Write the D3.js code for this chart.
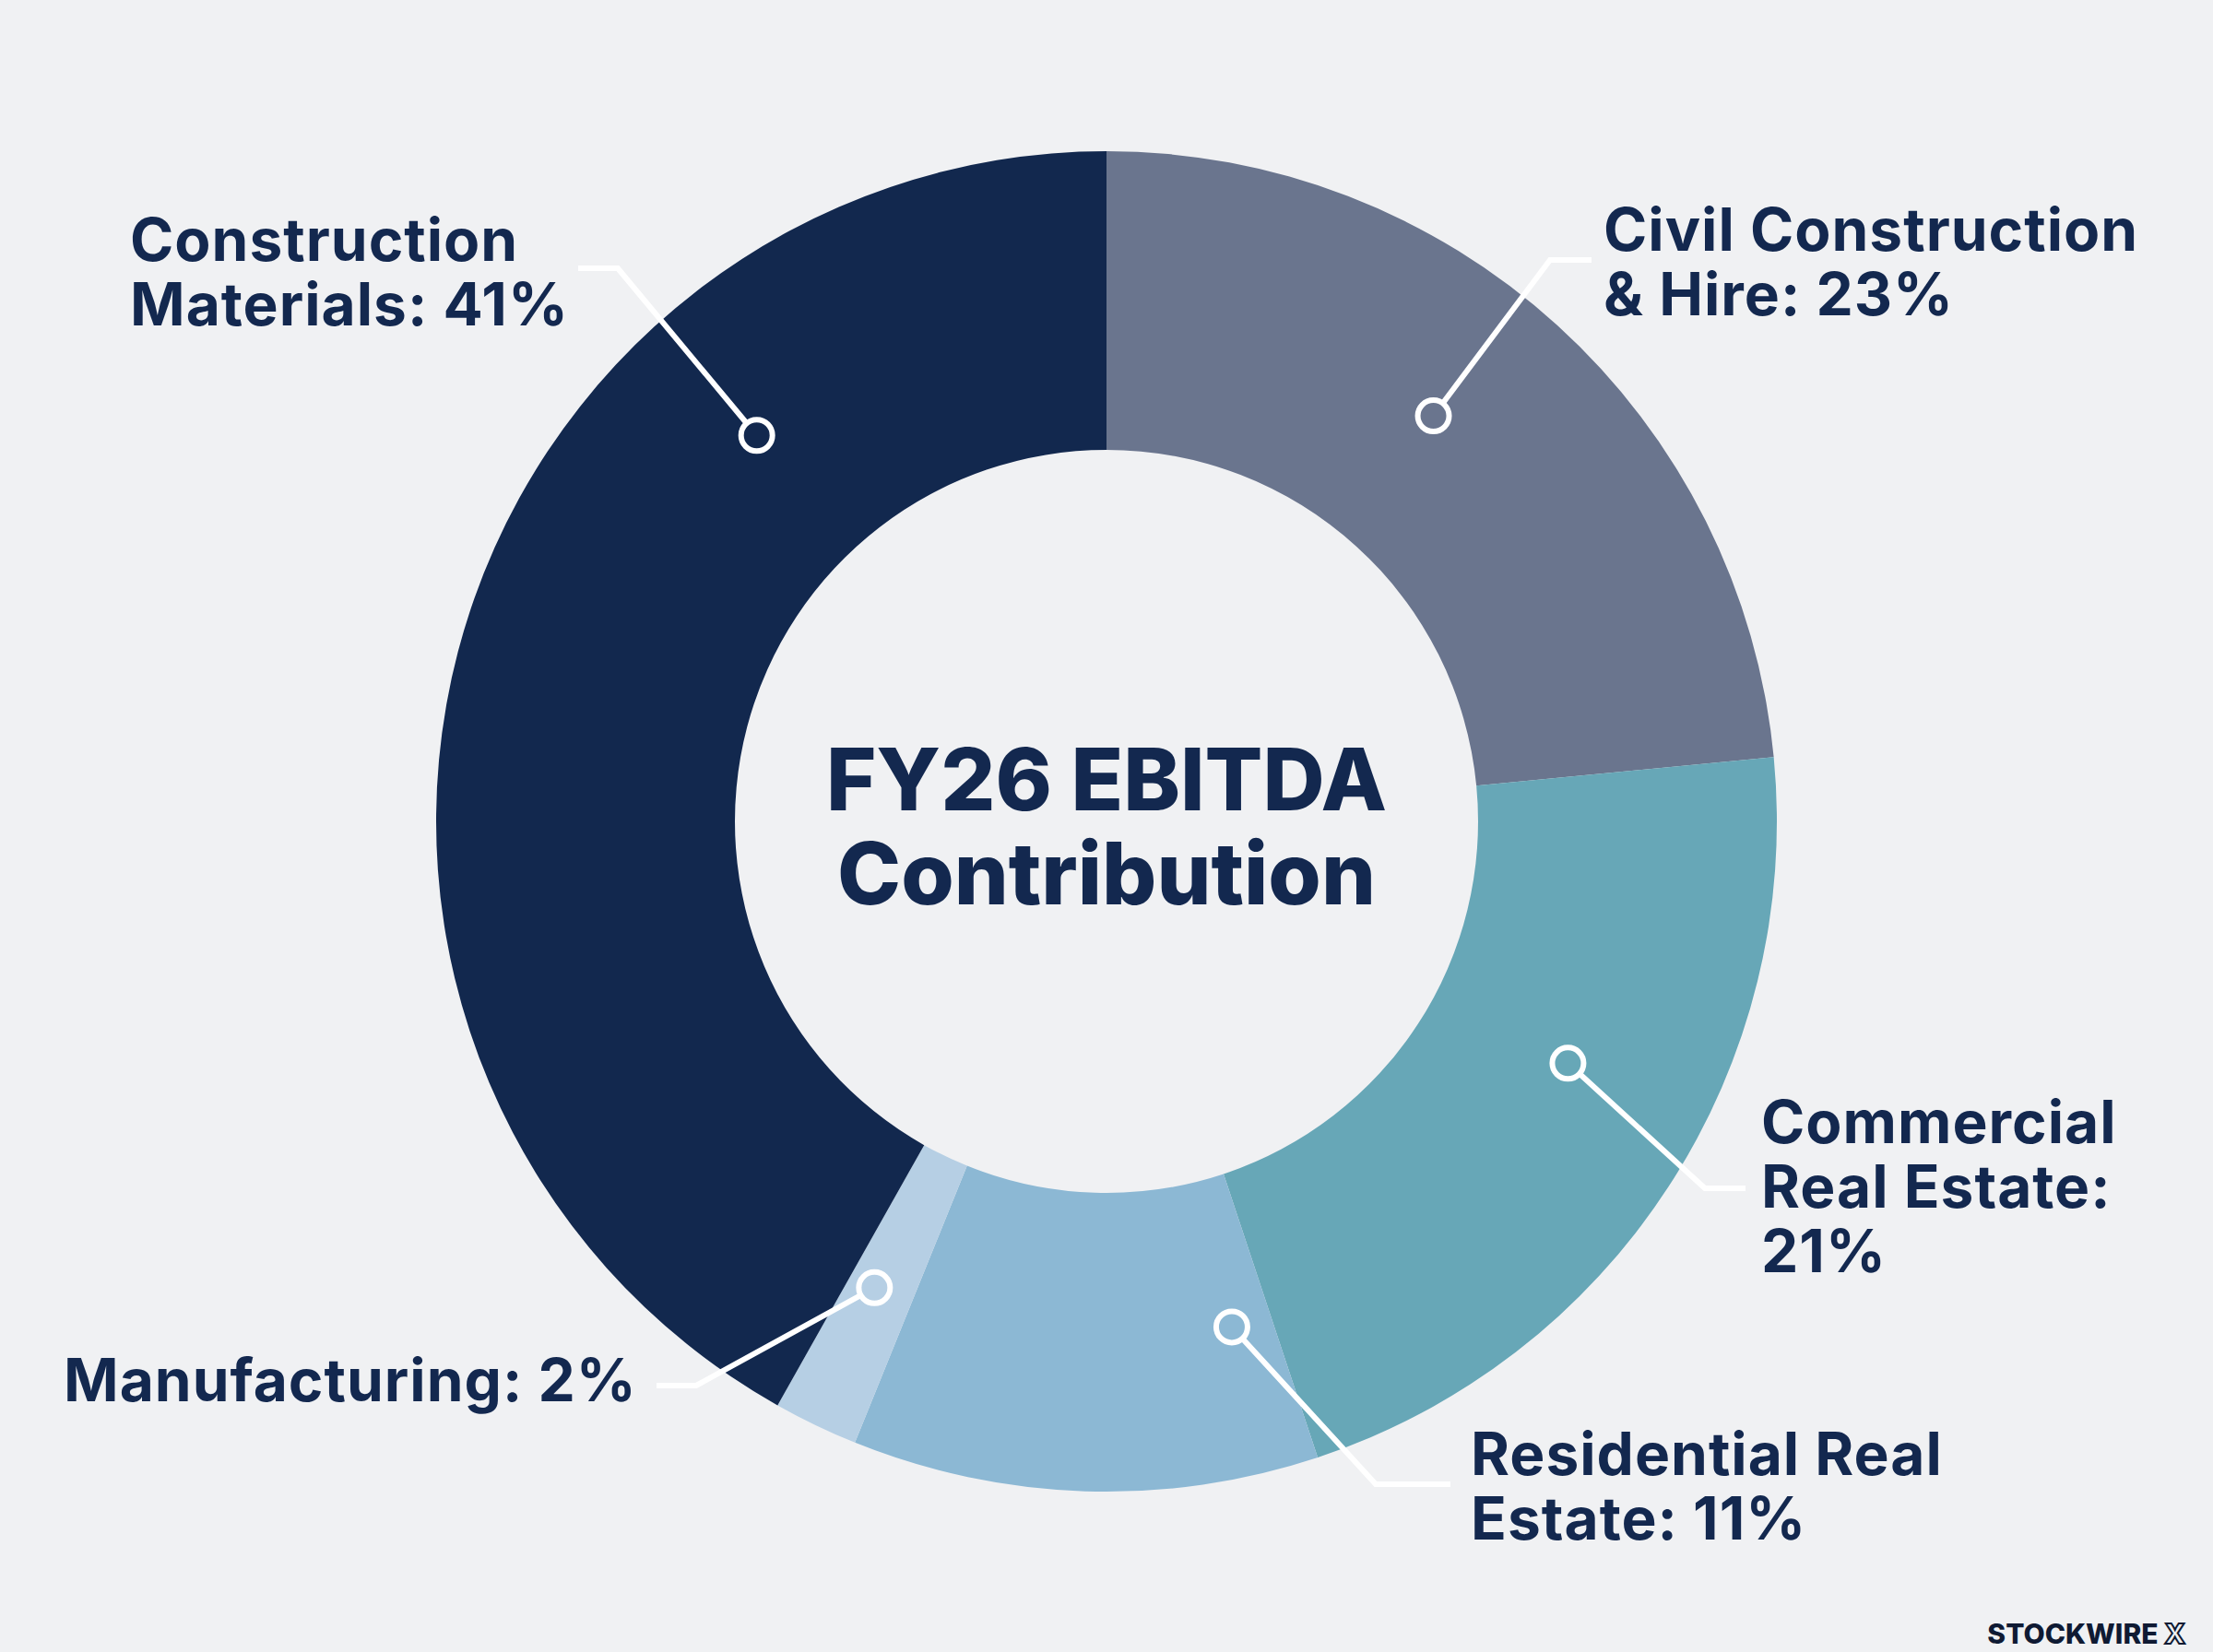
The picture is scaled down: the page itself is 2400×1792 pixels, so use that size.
<!DOCTYPE html>
<html>
<head>
<meta charset="utf-8">
<script src="https://cdn.jsdelivr.net/npm/d3@7"></script>
<style>
body { margin: 0; background: #f0f1f3; }
svg text { font-family: Inter, "Noto Sans", sans-serif; font-weight: 700; fill: #13284f; }
</style>
</head>
<body>
<svg id="chart" width="2400" height="1792"></svg>
<script>
// segments in clockwise order from 12 o'clock
var segments = ["Civil Construction & Hire", "Commercial Real Estate", "Residential Real Estate", "Manufacturing", "Construction Materials"];
var shares = [23, 21, 11, 2, 41];
var nameLines = [["Civil Construction", "& Hire"], ["Commercial", "Real Estate"], ["Residential Real", "Estate"], ["Manufacturing"], ["Construction", "Materials"]];
var pctOwnLine = [false, true, false, false, false];
var colors = ["#6a758e", "#67a7b7", "#8cb8d4", "#b6cfe4", "#12284e"];
var titleLines = ["FY26 EBITDA", "Contribution"];

// label layout: where the leader meets the slice (fraction of slice angle), elbow, end, text
var layout = [
    { t: 0.46, elbow: [1681, 282], end: [1726, 282], x: 1739, y: 272 },
    { t: 0.43, elbow: [1849, 1289], end: [1893, 1289], x: 1910, y: 1240 },
    { t: 0.11, elbow: [1492, 1610], end: [1573, 1610], x: 1595, y: 1600 },
    { t: 0.6, elbow: [755, 1503], end: [712, 1503], x: 69, y: 1520 },
    { t: 0.72, elbow: [670, 291], end: [627, 291], x: 141, y: 283 }
];

var cx = 1200, cy = 891, rOuter = 727, rInner = 403;
var labelSize = 64, lineH = 70;

var svg = d3.select("#chart");
var g = svg.append("g").attr("transform", "translate(" + cx + "," + cy + ")");

var pie = d3.pie().sort(null).value(function(d) { return d; });
var arcs = pie(shares);
var arc = d3.arc().innerRadius(rInner).outerRadius(rOuter);

g.selectAll("path.slice")
    .data(arcs)
    .enter().append("path")
    .attr("class", "slice")
    .attr("d", arc)
    .attr("fill", function(d, i) { return colors[i]; });

// leader lines
var rMid = (rInner + rOuter) / 2;
arcs.forEach(function(d, i) {
    var L = layout[i];
    var a = d.startAngle + (d.endAngle - d.startAngle) * L.t;
    var px = cx + rMid * Math.sin(a), py = cy - rMid * Math.cos(a);
    svg.append("polyline")
        .attr("points", [[px, py], L.elbow, L.end].map(function(p) { return p.join(","); }).join(" "))
        .attr("fill", "none")
        .attr("stroke", "#ffffff")
        .attr("stroke-width", 6)
        .attr("stroke-linejoin", "miter");
    svg.append("circle")
        .attr("cx", px).attr("cy", py).attr("r", 17)
        .attr("fill", colors[i])
        .attr("stroke", "#ffffff")
        .attr("stroke-width", 6);

    var lines = nameLines[i].slice();
    var pct = shares[i] + "%";
    if (pctOwnLine[i]) {
        lines[lines.length - 1] += ":";
        lines.push(pct);
    } else {
        lines[lines.length - 1] += ": " + pct;
    }
    var txt = svg.append("text")
        .attr("x", L.x).attr("y", L.y)
        .style("font-size", labelSize + "px")
        .style("letter-spacing", "1px");
    lines.forEach(function(s, j) {
        txt.append("tspan")
            .attr("x", L.x)
            .attr("y", L.y + j * lineH)
            .text(s);
    });
});

// centre title
svg.selectAll("text.title")
    .data(titleLines)
    .enter().append("text")
    .attr("class", "title")
    .attr("x", cx)
    .attr("y", function(d, i) { return 879 + i * 102; })
    .attr("text-anchor", "middle")
    .style("font-size", "93px")
    .style("font-weight", 800)
    .text(function(d) { return d; });

// watermark
var wm = svg.append("text")
    .attr("x", 2370).attr("y", 1783)
    .attr("text-anchor", "end")
    .style("font-size", "30px")
    .style("font-weight", 800)
    .style("fill", "#0f1a33");
wm.append("tspan").text("STOCKWIRE ");
wm.append("tspan").text("X")
    .style("fill", "#f0f1f3")
    .style("stroke", "#0f1a33")
    .style("stroke-width", 2);
</script>
</body>
</html>
